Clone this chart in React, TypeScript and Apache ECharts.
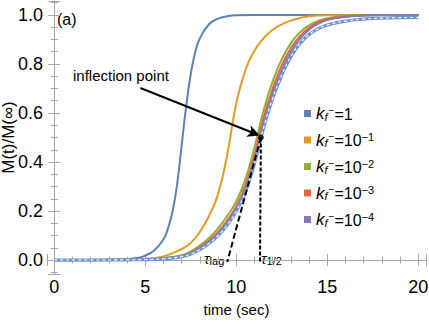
import React, { useEffect, useRef } from "react";
import * as echarts from "echarts";

const FONT = "'Liberation Sans', Arial, sans-serif";

// x limits of the frame and y limits of the frame
const xRange = [-0.4, 20.42];
const yRange = [-0.057, 1.057];

const xTickLabels = [0, 5, 10, 15, 20];
const yTickLabels = [0, 0.2, 0.4, 0.6, 0.8, 1.0];

// k_f^- = 1
const blueT = [0, 2, 3, 4, 4.5, 5, 5.5, 6, 6.25, 6.5, 6.75, 7, 7.25, 7.5, 7.75, 8, 8.5, 9, 9.5, 10, 11, 13, 16, 20];
const blueY = [0, 0, 0.001, 0.004, 0.008, 0.018, 0.04, 0.085, 0.13, 0.2, 0.31, 0.47, 0.63, 0.76, 0.85, 0.905, 0.962, 0.985, 0.995, 0.999, 1, 1, 1, 1];

// k_f^- = 10^-1
const orangeT = [0, 2, 4, 5, 6, 7, 7.5, 8, 8.5, 9, 9.5, 10, 10.5, 11, 11.5, 12, 12.5, 13, 13.5, 14, 15, 17, 20];
const orangeY = [0, 0, 0.002, 0.005, 0.015, 0.045, 0.07, 0.115, 0.18, 0.27, 0.43, 0.64, 0.775, 0.855, 0.905, 0.94, 0.962, 0.977, 0.988, 0.995, 0.999, 1, 1];

// common time grid for the slower curves
const slowT = [0, 2, 4, 5, 6, 7, 7.5, 8, 8.5, 9, 9.5, 10, 10.5, 11, 11.5, 12, 12.5, 13, 13.5, 14, 14.5, 15, 16, 17, 18, 20];
const greenY = [0, 0, 0.001, 0.003, 0.008, 0.02, 0.035, 0.06, 0.09, 0.13, 0.18, 0.24, 0.33, 0.46, 0.61, 0.73, 0.82, 0.885, 0.93, 0.958, 0.976, 0.987, 0.996, 0.999, 1, 1];
const redY = [0, 0, 0.001, 0.002, 0.007, 0.017, 0.03, 0.052, 0.08, 0.115, 0.162, 0.22, 0.305, 0.43, 0.58, 0.7, 0.795, 0.865, 0.915, 0.948, 0.97, 0.983, 0.994, 0.998, 1, 1];
const purpleY = [0, 0, 0.001, 0.002, 0.006, 0.016, 0.028, 0.048, 0.075, 0.108, 0.153, 0.21, 0.29, 0.41, 0.555, 0.68, 0.775, 0.85, 0.903, 0.94, 0.964, 0.979, 0.992, 0.997, 1, 1];
const limitY = [0, 0, 0.001, 0.002, 0.005, 0.014, 0.025, 0.043, 0.068, 0.1, 0.143, 0.2, 0.278, 0.395, 0.54, 0.66, 0.755, 0.83, 0.884, 0.92, 0.944, 0.959, 0.975, 0.983, 0.987, 0.99];

// legend labels: k_f^- = base^exp
const kfBase = ["1", "10", "10", "10", "10"];
const kfExp = ["", "−1", "−2", "−3", "−4"];
const seriesNames = ["kf1", "kf2", "kf3", "kf4", "kf5"];
const colors = ["#5E81B5", "#E19C24", "#8FB032", "#EB6235", "#8778B3"];

// annotations
const inflection = [11.35, 0.5];
const tauLag = 9.5;
const arrowStart = [4.73, 0.702];
const arrowEnd = [11.28, 0.508];

const zip = (t: number[], y: number[]) => t.map((v, i) => [v, y[i]]);

export default function App() {
  const ref = useRef<HTMLDivElement>(null);
  useEffect(() => {
    const chart = echarts.init(ref.current!, null, { renderer: "svg" });
    const curveData = [
      zip(blueT, blueY),
      zip(orangeT, orangeY),
      zip(slowT, greenY),
      zip(slowT, redY),
      zip(slowT, purpleY),
    ];
    const frameColor = "#a8a8a8";
    const isTick = (v: number, list: number[]) => list.some((x) => Math.abs(x - v) < 1e-6);
    const baseX = {
      type: "value",
      min: xRange[0],
      max: xRange[1],
      splitNumber: 4,
      axisLine: { show: true, lineStyle: { color: frameColor, width: 1 } },
      axisTick: { show: true, inside: true, length: 6, lineStyle: { color: frameColor } },
      minorTick: { show: true, splitNumber: 5, length: 3.5, lineStyle: { color: frameColor } },
      splitLine: { show: false },
      minorSplitLine: { show: false },
    };
    const baseY = {
      type: "value",
      min: yRange[0],
      max: yRange[1],
      splitNumber: 5,
      axisLine: { show: true, lineStyle: { color: frameColor, width: 1 } },
      axisTick: { show: true, inside: true, length: 6, lineStyle: { color: frameColor } },
      minorTick: { show: true, splitNumber: 4, length: 3.5, lineStyle: { color: frameColor } },
      splitLine: { show: false },
      minorSplitLine: { show: false },
    };
    const smoothing = 0.5;
    const lineSeries: any[] = curveData.map((d, i) => ({
      name: seriesNames[i],
      type: "line",
      data: d,
      showSymbol: false,
      smooth: smoothing,
      color: colors[i],
      lineStyle: { width: 2, color: colors[i] },
      silent: true,
      z: 2 + i,
    }));
    lineSeries.push({
      name: "limit",
      type: "line",
      data: zip(slowT, limitY),
      showSymbol: false,
      smooth: smoothing,
      lineStyle: { width: 3.2, color: "#6f93cc" },
      silent: true,
      z: 8,
    });
    lineSeries.push({
      name: "limitDash",
      type: "line",
      data: zip(slowT, limitY),
      showSymbol: false,
      smooth: smoothing,
      lineStyle: { width: 1.1, color: "#ffffff", type: [3, 3] },
      silent: true,
      z: 9,
    });
    lineSeries.push({
      name: "tangent",
      type: "line",
      data: [inflection, [tauLag, -0.008]],
      showSymbol: false,
      lineStyle: { width: 2, color: "#000", type: [6, 3] },
      silent: true,
      z: 10,
      markLine: {
        silent: true,
        symbol: ["none", "arrow"],
        symbolSize: [9, 12],
        label: { show: false },
        lineStyle: { color: "#000", width: 2, type: "solid" },
        data: [[{ coord: arrowStart }, { coord: arrowEnd }]],
      },
    });
    lineSeries.push({
      name: "half",
      type: "line",
      data: [inflection, [inflection[0] - 0.05, -0.008]],
      showSymbol: false,
      lineStyle: { width: 2, color: "#000", type: [4, 2] },
      silent: true,
      z: 10,
    });
    lineSeries.push({
      name: "dot",
      type: "scatter",
      data: [inflection],
      symbolSize: 6,
      itemStyle: { color: "#000" },
      silent: true,
      z: 11,
    });

    const option: any = {
      animation: false,
      grid: { left: 47, right: 3, top: 1, bottom: 51, containLabel: false, outerBoundsMode: "none" },
      xAxis: [
        {
          ...baseX,
          position: "bottom",
          name: "time (sec)",
          nameLocation: "middle",
          nameGap: 28,
          nameMoveOverlap: false,
          nameTextStyle: { fontFamily: FONT, fontSize: 15, color: "#000" },
          axisLabel: {
            show: true,
            margin: 4,
            fontFamily: FONT,
            fontSize: 18,
            color: "#000",
            formatter: (v: number) => (isTick(v, xTickLabels) ? String(Math.round(v)) : ""),
          },
        },
        { ...baseX, position: "top", axisLabel: { show: false } },
      ],
      yAxis: [
        {
          ...baseY,
          position: "left",
          name: "M(t)/M(∞)",
          nameLocation: "middle",
          nameGap: 30,
          nameMoveOverlap: false,
          nameTextStyle: { fontFamily: FONT, fontSize: 17, color: "#000" },
          axisLabel: {
            show: true,
            margin: 4,
            fontFamily: FONT,
            fontSize: 18,
            color: "#000",
            formatter: (v: number) => (isTick(v, yTickLabels) ? v.toFixed(1) : ""),
          },
        },
        { ...baseY, position: "right", axisLabel: { show: false } },
      ],
      legend: {
        data: seriesNames,
        orient: "vertical",
        left: 299,
        top: 100,
        icon: "rect",
        itemWidth: 7,
        itemHeight: 7,
        itemGap: 9.5,
        selectedMode: false,
        formatter: (name: string) => {
          const i = seriesNames.indexOf(name);
          return `{k|k}{f|f}{m|−}{e|=${kfBase[i]}}` + (kfExp[i] ? `{p|${kfExp[i]}}` : "");
        },
        textStyle: {
          color: "#000",
          fontFamily: FONT,
          rich: {
            k: { fontSize: 17, fontStyle: "italic", fontFamily: FONT, color: "#000", verticalAlign: "bottom" },
            f: { fontSize: 11, fontStyle: "italic", fontFamily: FONT, color: "#000", verticalAlign: "bottom", width: 4 },
            m: { fontSize: 10, fontFamily: FONT, color: "#000", verticalAlign: "top", width: 6 },
            e: { fontSize: 16, fontFamily: FONT, color: "#000", verticalAlign: "bottom" },
            p: { fontSize: 11, fontFamily: FONT, color: "#000", verticalAlign: "top" },
          },
        },
      },
      graphic: [
        {
          type: "text",
          left: 57,
          top: 11,
          style: { text: "(a)", fontFamily: FONT, fontSize: 16, fill: "#000" },
        },
        {
          type: "text",
          left: 73,
          top: 68,
          style: { text: "inflection point", fontFamily: FONT, fontSize: 15, fill: "#000" },
        },
        {
          type: "text",
          left: 204,
          top: 251,
          style: {
            text: "{t|τ}{s|lag}",
            rich: {
              t: { fontSize: 15, fontStyle: "italic", fontFamily: FONT, fill: "#000", verticalAlign: "top" },
              s: { fontSize: 11, fontFamily: FONT, fill: "#000", verticalAlign: "bottom" },
            },
          },
        },
        {
          type: "text",
          left: 261,
          top: 251,
          style: {
            text: "{t|τ}{s|1/2}",
            rich: {
              t: { fontSize: 15, fontStyle: "italic", fontFamily: FONT, fill: "#000", verticalAlign: "top" },
              s: { fontSize: 11, fontFamily: FONT, fill: "#000", verticalAlign: "bottom" },
            },
          },
        },
      ],
      series: lineSeries,
    };
    chart.setOption(option);
    return () => chart.dispose();
  }, []);
  return <div ref={ref} style={{ position: "absolute", left: 0, top: 0, width: 429, height: 325 }} />;
}
